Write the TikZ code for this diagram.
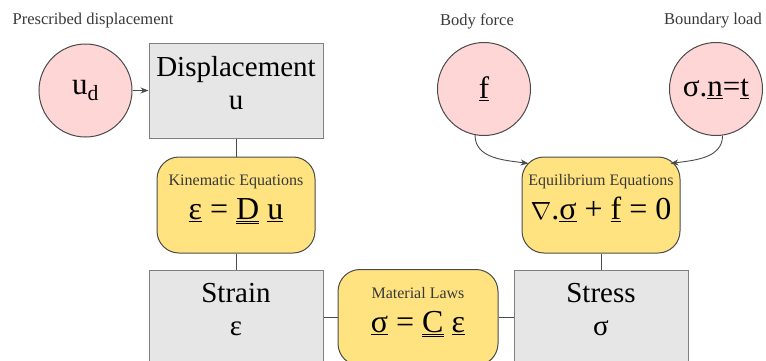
\documentclass[tikz,border=0pt]{standalone}
\usepackage{fontspec}
\setmainfont{Liberation Serif}
\usetikzlibrary{positioning,arrows.meta,calc}

\definecolor{qtygray}{HTML}{E6E6E6}
\definecolor{lawyellow}{HTML}{FFE380}
\definecolor{loadpink}{HTML}{FFD6D6}
\definecolor{edgegray}{HTML}{4A4A4A}

\newcommand{\ul}[1]{\underline{#1}}
\newcommand{\dul}[1]{\underline{\underline{#1}}}
\newcommand{\lift}{\rule[-16pt]{0pt}{1pt}}
\newcommand{\lawtitle}[1]{{\fontsize{16}{18}\selectfont\color{black!78}#1}}

\begin{document}
\begin{tikzpicture}[
  x=1pt, y=-1pt,
  qty/.style={draw=black!50, fill=qtygray, line width=1pt, align=center,
              minimum width=174pt, minimum height=95pt, inner sep=0pt,
              font=\fontsize{29}{33}\selectfont},
  law/.style={draw=edgegray, fill=lawyellow, line width=1pt, align=center,
              rounded corners=22pt, minimum width=158pt, minimum height=96pt,
              inner sep=0pt, font=\fontsize{32}{34}\selectfont},
  load/.style={circle, draw=edgegray, fill=loadpink, line width=1pt,
               minimum size=93pt, inner sep=0pt, font=\fontsize{31}{34}\selectfont},
  datalabel/.style={font=\fontsize{16.5}{18}\selectfont, text=black!78},
  link/.style={draw=edgegray, line width=1pt},
  arr/.style={-{Stealth[length=8pt,width=6pt]}, draw=edgegray, line width=0.9pt}
]
  \useasboundingbox (0,0) rectangle (766,360);
  \clip (0,0) rectangle (766,360);

  % quantities and the laws between them
  \node[qty] (disp) at (236,90.5) {Displacement\\ u\lift};
  \node[law, below=18pt of disp] (kin)
    {\lawtitle{Kinematic Equations}\\ \ul{ε} = \dul{D} \ul{u}\lift};
  \node[qty, below=16pt of kin] (strain) {Strain\\ ε\lift};
  \node[law, right=14pt of strain, minimum width=160pt] (mat)
    {\lawtitle{Material Laws}\\ \ul{σ} = \dul{C} \ul{ε}\lift};
  \node[qty, right=15pt of mat] (stress) {Stress\\ σ\lift};
  \node[law, above=16pt of stress] (equil)
    {\lawtitle{Equilibrium Equations}\\ $\nabla$.\ul{σ} + \ul{f} = 0\lift};

  % prescribed data
  \node[load, left=16pt of disp] (ud) {u\textsubscript{d}};
  \node[load] (force) at (484,89) {\ul{f}};
  \node[load] (bload) at (716,89) {σ.\ul{n}=\ul{t}};

  \node[datalabel] (udlabel) at (93,21) {Prescribed displacement};
  \node[datalabel] (forcelabel) at (477,21) {Body force};
  \node[datalabel] (bloadlabel) at (713,21) {Boundary load};

  \draw[link] (disp) -- (kin);
  \draw[link] (kin) -- (strain);
  \draw[link] (strain) -- (mat);
  \draw[link] (mat) -- (stress);
  \draw[link] (stress) -- (equil);

  \draw[arr] (ud) -- (disp.west |- ud);
  \draw[arr] (force.-101) to[out=-90, in=172] ($(equil.north west)+(7,7)$);
  \draw[arr] (bload.-82) to[out=-90, in=8] ($(equil.north east)+(-10,7)$);
\end{tikzpicture}
\end{document}
